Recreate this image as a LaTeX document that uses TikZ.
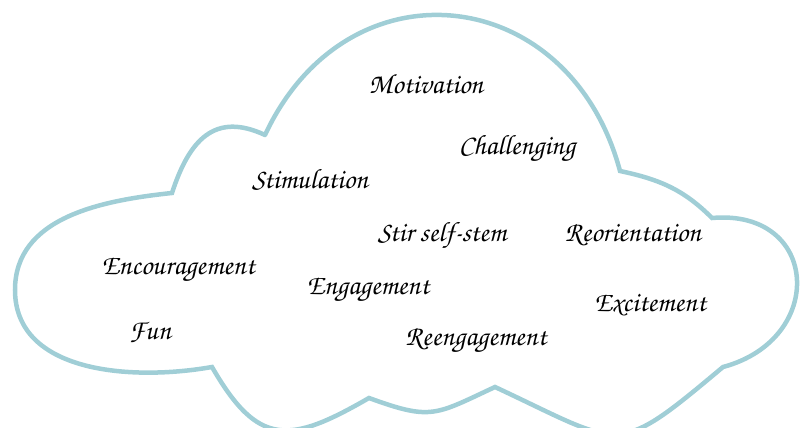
\documentclass[tikz,border=0pt]{standalone}
\usepackage{fontspec}
\usepackage{tikz}
\definecolor{cloudblue}{RGB}{ 160, 206, 214 }
\newfontfamily\chorusfont{texgyrechorus-mediumitalic.otf}
\newcommand{\wordfont}{\chorusfont\fontsize{28}{30}\selectfont}

\begin{document}
\begin{tikzpicture}[x=1pt,y=1pt]
\tikzstyle{word}=[font=\wordfont,inner sep=0pt]
\tikzstyle{cloud line}=[draw=cloudblue,line width=4.5pt,line cap=round]

\useasboundingbox (0,0) rectangle (801,428);
\clip (0,0) rectangle (801,428);

% dents of the cloud
\coordinate (c1) at (265,293);
\coordinate (c2) at (620,257);
\coordinate (c3) at (712,210);
\coordinate (c4) at (723,61);
\coordinate (c5) at (495,41);
\coordinate (c6) at (369,30);
\coordinate (c7) at (212,61);
\coordinate (left) at (15,138);
\coordinate (c8) at (172,235);

% outline
\draw[cloud line] (c1) to[out=65,in=105,looseness=1.4] (c2)
    to[out=-12,in=135] (c3)
    to[out=5,in=15,looseness=1.85] (c4)
    to[out=220,in=-25,looseness=1.6] (c5)
    to[out=205,in=-20,looseness=1.35] (c6)
    to[out=210,in=-60,looseness=1.48] (c7)
    to[out=190,in=-90] (left)
    to[out=90,in=186] (c8)
    to[out=72,in=155,looseness=1.3] (c1);

% words
\node(mot)[word] at (426,344) {Motivation};
\node(chal)[word] at (517,280) {Challenging};
\node(stim)[word] at (310,248) {Stimulation};
\node(stir)[word] at (442,193) {Stir self-stem};
\node(reor)[word] at (633,193) {Reorientation};
\node(enc)[word] at (178,158) {Encouragement};
\node(eng)[word] at (368,138) {Engagement};
\node(exc)[word] at (650,123) {Excitement};
\node(fun)[word] at (150,96) {Fun};
\node(reeng)[word] at (476,88) {Reengagement};

\end{tikzpicture}
\end{document}
